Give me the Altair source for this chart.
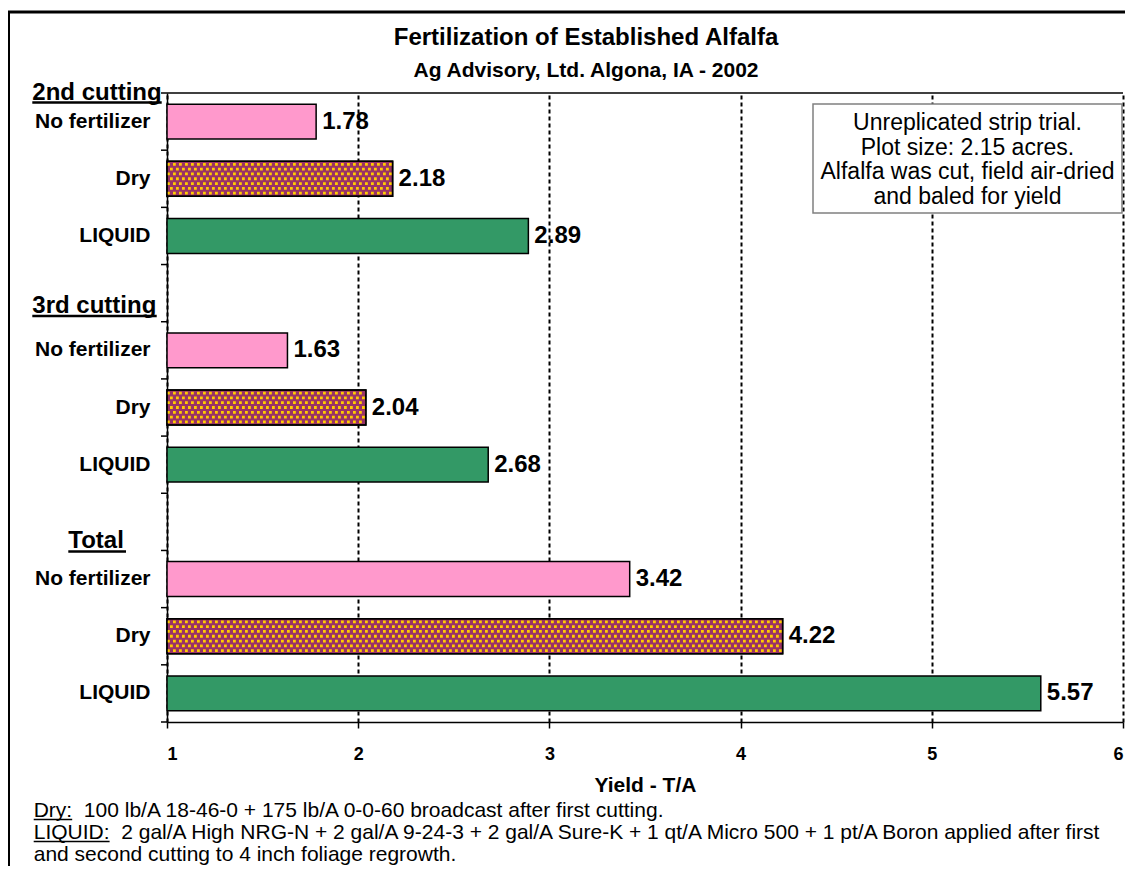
import altair as alt
import pandas as pd

FONT = "Liberation Sans"

title_text = "Fertilization of Established Alfalfa"
subtitle_text = "Ag Advisory, Ltd. Algona, IA - 2002"
groups = ["2nd cutting", "3rd cutting", "Total"]
treatments = ["No fertilizer", "Dry", "LIQUID"]
yield_2nd = [1.78, 2.18, 2.89]
yield_3rd = [1.63, 2.04, 2.68]
yield_total = [3.42, 4.22, 5.57]
x_ticks = [1, 2, 3, 4, 5, 6]
bar_colors = ["#FF99CC", "#993366", "#339966"]
dot_color = "#FFCC00"
x_title = "Yield - T/A"
note_lines = [
    "Unreplicated strip trial.",
    "Plot size: 2.15 acres.",
    "Alfalfa was cut, field air-dried",
    "and baled for yield",
]
footnotes = [
    "Dry:\u00a0 100 lb/A 18-46-0 + 175 lb/A 0-0-60 broadcast after first cutting.",
    "LIQUID:\u00a0 2 gal/A High NRG-N + 2 gal/A 9-24-3 + 2 gal/A Sure-K + 1 qt/A Micro 500 + 1 pt/A Boron applied after first",
    "and second cutting to 4 inch foliage regrowth.",
]

W, H = 956, 629

rows = []
for g, vals in zip(groups, [yield_2nd, yield_3rd, yield_total]):
    for t, v in zip(treatments, vals):
        rows.append({"group": g, "treatment": t, "key": f"{g}|{t}", "value": v, "base": x_ticks[0]})
df = pd.DataFrame(rows)

domain = []
for i, g in enumerate(groups):
    if i > 0:
        domain.append(f"gap{i}")
    for t in treatments:
        domain.append(f"{g}|{t}")
ticks_df = pd.DataFrame({"key": domain})

xscale = alt.Scale(domain=[1, 6], nice=False, zero=False)
yscale = alt.Scale(domain=domain, paddingInner=0, paddingOuter=0)

xaxis = alt.Axis(
    values=x_ticks, format="d", grid=True, gridColor="black", gridDash=[4, 3],
    gridWidth=2, domainColor="black", domainWidth=1.5, tickColor="black",
    tickSize=6, tickWidth=1.5, labelFontSize=18, labelFontWeight="bold",
    labelColor="black", labelFont=FONT, labelPadding=17, title=x_title,
    titleFont=FONT, titleFontSize=21, titleFontWeight="bold", titleColor="black",
    titlePadding=11,
)
yaxis = alt.Axis(
    title=None, labelExpr="indexof(datum.value, '|') >= 0 ? split(datum.value, '|')[1] : ''",
    labelFont=FONT, labelFontSize=21, labelFontWeight="bold", labelColor="black",
    labelPadding=17, ticks=False, domainColor="black", domainWidth=1.5, grid=False,
)

bars = alt.Chart(df).mark_bar(stroke="black", strokeWidth=1.5, height={"band": 0.61}).encode(
    x=alt.X("value:Q", scale=xscale, axis=xaxis),
    x2=alt.X2("base:Q"),
    y=alt.Y("key:N", scale=yscale, axis=yaxis, sort=domain),
    color=alt.Color("treatment:N", scale=alt.Scale(domain=treatments, range=bar_colors), legend=None),
)

# y-axis ticks between categories
yticks = alt.Chart(ticks_df).mark_rule(color="black", strokeWidth=1.5).encode(
    y=alt.Y("key:N", sort=domain, bandPosition=0), x=alt.value(-6), x2=alt.value(0))
yticks_end = alt.Chart(ticks_df.tail(1)).mark_rule(color="black", strokeWidth=1.5).encode(
    y=alt.Y("key:N", sort=domain, bandPosition=1), x=alt.value(-6), x2=alt.value(0))

# yellow dot texture of the "Dry" bars: staggered rows of square dashes
dry = alt.Chart(df).transform_filter("datum.treatment == 'Dry'")
n_rows = 7
dot_layers = []
for r in range(n_rows):
    dot_layers.append(
        dry.mark_rule(color=dot_color, strokeWidth=2.8, strokeDash=[2.8, 3.2],
                      strokeDashOffset=3 * (r % 2), strokeCap="butt",
                      yOffset=(r - (n_rows - 1) / 2) * 4.8)
        .encode(x=alt.X("base:Q"), x2=alt.X2("value:Q"), y=alt.Y("key:N", sort=domain))
    )

outline = dry.mark_bar(fillOpacity=0, stroke="black", strokeWidth=1.5, height={"band": 0.61}).encode(
    x="value:Q", x2="base:Q", y=alt.Y("key:N", sort=domain))

labels = alt.Chart(df).mark_text(
    align="left", baseline="middle", dx=6, fontSize=24, fontWeight="bold", font=FONT, color="black"
).encode(x="value:Q", y=alt.Y("key:N", sort=domain), text=alt.Text("value:Q", format=".2f"))

one = pd.DataFrame({"k": [0]})

def txt(text, x, y, size, bold=False, align="left"):
    return alt.Chart(one).mark_text(
        align=align, baseline="alphabetic", fontSize=size,
        fontWeight="bold" if bold else "normal", font=FONT, color="black",
    ).encode(x=alt.value(x), y=alt.value(y), text=alt.value(text))

def hline(x1, x2, y, w):
    return alt.Chart(one).mark_rule(color="black", strokeWidth=w).encode(
        x=alt.value(x1), x2=alt.value(x2), y=alt.value(y))

decor = []
decor.append(hline(0, W, 0, 1.5))
decor.append(alt.Chart(one).mark_rect(fillOpacity=0, stroke="black", strokeWidth=3).encode(
    x=alt.value(-158.5), x2=alt.value(1100), y=alt.value(-81), y2=alt.value(900)))
decor.append(txt(title_text, 419, -48, 24, True, "center"))
decor.append(txt(subtitle_text, 419, -16, 21, True, "center"))
decor.append(txt(groups[0], -134.7, 6.5, 24, True))
decor.append(hline(-134.7, -5.3, 9.5, 2.7))
decor.append(txt(groups[1], -134.7, 220, 24, True))
decor.append(hline(-134.7, -10.3, 223, 2.7))
decor.append(txt(groups[2], -98.7, 455, 24, True))
decor.append(hline(-98.7, -41, 458.5, 2.7))
decor.append(alt.Chart(one).mark_rect(fill="white", stroke="#808080", strokeWidth=1.5).encode(
    x=alt.value(646), x2=alt.value(955), y=alt.value(11), y2=alt.value(120)))
for i, line in enumerate(note_lines):
    decor.append(txt(line, 800.5, 37 + 24.5 * i, 23, False, "center"))
fy = [724, 746, 768]
for line, y in zip(footnotes, fy):
    decor.append(txt(line, -133.3, y, 21))
decor.append(hline(-133.3, -94.8, fy[0] + 2.5, 1.5))
decor.append(hline(-133.3, -57.4, fy[1] + 2.5, 1.5))

chart = alt.layer(bars, yticks, yticks_end, *dot_layers, outline, labels, *decor).properties(
    width=W, height=H,
    autosize=alt.AutoSizeParams(type="none"),
    padding={"left": 159, "top": 85, "right": 2, "bottom": 144},
    background="white",
).configure_view(stroke=None)

chart.save("out.html", embed_options={"renderer": "svg", "actions": False})
